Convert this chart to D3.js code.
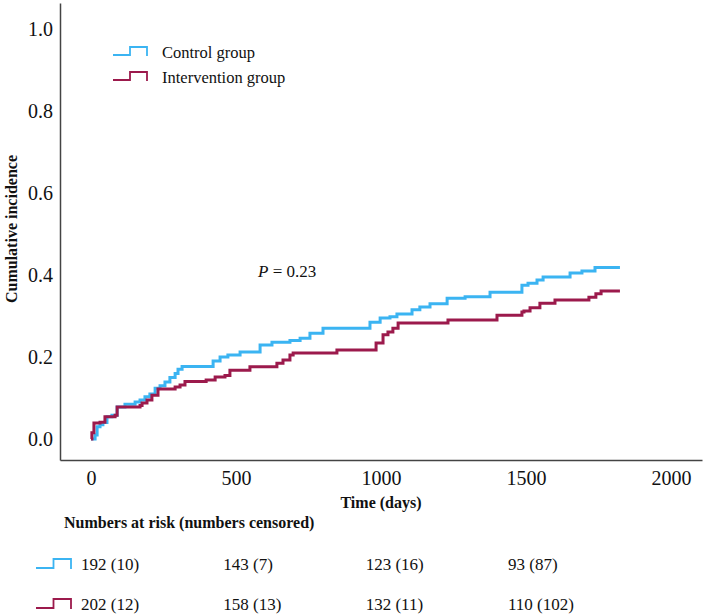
<!DOCTYPE html>
<html>
<head>
<meta charset="utf-8">
<script src="https://cdn.jsdelivr.net/npm/d3@7"></script>
</head>
<body style="margin:0;background:#fff">
<div id="chart"></div>
<script>
// step points: time in days, cumulative incidence
const controlTime = [0, 14, 21, 31, 41, 55, 72, 90, 117, 152, 169, 186, 203, 221, 238, 255, 272, 290, 300, 314, 421, 445, 472, 514, 583, 624, 686, 721, 755, 800, 962, 997, 1031, 1055, 1107, 1134, 1169, 1228, 1290, 1376, 1486, 1507, 1538, 1559, 1652, 1693, 1738, 1824];
const controlInc  = [0, 0.01, 0.03, 0.035, 0.04, 0.054, 0.058, 0.078, 0.085, 0.09, 0.095, 0.103, 0.11, 0.124, 0.13, 0.139, 0.15, 0.16, 0.17, 0.177, 0.19, 0.2, 0.205, 0.212, 0.229, 0.236, 0.24, 0.246, 0.258, 0.27, 0.285, 0.295, 0.298, 0.305, 0.315, 0.322, 0.33, 0.343, 0.347, 0.358, 0.375, 0.38, 0.388, 0.395, 0.405, 0.41, 0.418, 0.418];

const interventionTime = [0, 3, 10, 31, 48, 83, 90, 169, 176, 193, 210, 231, 290, 307, 324, 397, 428, 462, 479, 548, 641, 662, 686, 697, 848, 983, 1007, 1024, 1041, 1059, 1231, 1400, 1486, 1493, 1514, 1548, 1600, 1717, 1741, 1759, 1824];
const interventionInc  = [0, 0.015, 0.039, 0.041, 0.054, 0.058, 0.078, 0.082, 0.088, 0.095, 0.107, 0.122, 0.127, 0.132, 0.14, 0.144, 0.151, 0.155, 0.168, 0.176, 0.185, 0.193, 0.205, 0.21, 0.217, 0.234, 0.254, 0.261, 0.27, 0.283, 0.29, 0.302, 0.31, 0.312, 0.32, 0.331, 0.339, 0.346, 0.354, 0.361, 0.361];

const xTicks = [0, 500, 1000, 1500, 2000];
const yTicks = [0, 0.2, 0.4, 0.6, 0.8, 1.0];

const groups = ["Control group", "Intervention group"];
const colors = ["#3bb4f2", "#9c1a4c"];

const riskTimes = [0, 500, 1000, 1500];
const controlRisk = ["192 (10)", "143 (7)", "123 (16)", "93 (87)"];
const interventionRisk = ["202 (12)", "158 (13)", "132 (11)", "110 (102)"];

const width = 706, height = 615;
const serif = "Liberation Serif";

const svg = d3.select("#chart").append("svg")
  .attr("width", width)
  .attr("height", height);

const x = d3.scaleLinear().domain([-107, 2107]).range([60, 702]);
const y = d3.scaleLinear().domain([-0.0512, 1.0634]).range([460, 3]);

// axes
const xAxis = svg.append("g").attr("transform", "translate(0,460)")
  .call(d3.axisBottom(x).tickValues(xTicks).tickFormat(d3.format("d")).tickSize(0).tickPadding(11));
const yAxis = svg.append("g").attr("transform", "translate(60,0)")
  .call(d3.axisLeft(y).tickValues(yTicks).tickFormat(d3.format(".1f")).tickSize(0).tickPadding(7));
[xAxis, yAxis].forEach(a => {
  a.attr("font-family", null).attr("font-size", null);
  a.select(".domain").attr("stroke", "#444").attr("stroke-width", 1.5);
  a.selectAll("text")
    .style("font-family", serif).style("font-size", "20px").attr("fill", "#111");
});

// curves
const line = d3.line().x(d => x(d[0])).y(d => y(d[1])).curve(d3.curveStepAfter);
const series = [
  d3.zip(controlTime, controlInc),
  d3.zip(interventionTime, interventionInc)
];
svg.append("g").selectAll("path")
  .data(series)
  .join("path")
  .attr("fill", "none")
  .attr("stroke", (d, i) => colors[i])
  .attr("stroke-width", 3)
  .attr("d", line);

// legend glyph: little step with a tick down at the end
function stepIcon(g, x0, yb, w, h, color, sw) {
  g.append("path")
    .attr("fill", "none")
    .attr("stroke", color)
    .attr("stroke-width", sw)
    .attr("d", `M${x0},${yb}H${x0 + w / 2}V${yb - h}H${x0 + w}V${yb + 1}`);
}

function label(g, tx, ty, size, str) {
  return g.append("text").attr("x", tx).attr("y", ty)
    .attr("fill", "#111")
    .style("font-family", serif).style("font-size", size + "px")
    .text(str);
}

const legend = svg.append("g");
groups.forEach((g, i) => {
  const yb = 55 + i * 25;
  stepIcon(legend, 113, yb, 34, 8, colors[i], 1.8);
  label(legend, 162, yb + 3, 16.5, g);
});

// p value
const pText = label(svg, 258, 277, 17, null);
pText.append("tspan").style("font-style", "italic").text("P");
pText.append("tspan").text(" = 0.23");

// axis titles
label(svg, 0, 0, 16, "Cumulative incidence")
  .attr("x", null).attr("y", null)
  .attr("transform", "translate(17,229) rotate(-90)")
  .attr("text-anchor", "middle")
  .style("font-weight", "bold");

label(svg, 381, 508, 16, "Time (days)")
  .attr("text-anchor", "middle")
  .style("font-weight", "bold");

// numbers at risk table
label(svg, 64, 528, 16, "Numbers at risk (numbers censored)")
  .style("font-weight", "bold");

const tx = d3.scaleLinear().domain([0, 1500]).range([81, 508]);
[controlRisk, interventionRisk].forEach((row, i) => {
  const yb = 570 + i * 40;
  stepIcon(svg, 36, yb - 2, 35, 9, colors[i], 1.8);
  svg.append("g").selectAll("text")
    .data(row)
    .join("text")
    .attr("x", (d, j) => tx(riskTimes[j]))
    .attr("y", yb)
    .attr("fill", "#111")
    .style("font-family", serif)
    .style("font-size", "17px")
    .text(d => d);
});
</script>
</body>
</html>
